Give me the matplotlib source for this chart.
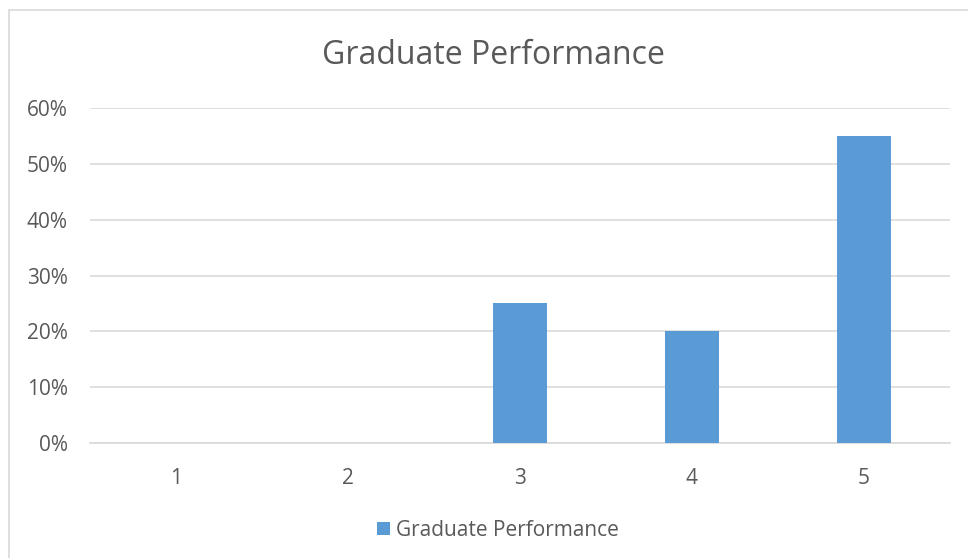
import matplotlib.pyplot as plt
import matplotlib.patches as mpatches
from matplotlib.ticker import PercentFormatter

plt.rcParams['font.family'] = ['Open Sans', 'DejaVu Sans']

categories = ['1', '2', '3', '4', '5']
values = [0.0, 0.0, 0.25, 0.20, 0.55]
series_name = 'Graduate Performance'
yticks = [0, 0.1, 0.2, 0.3, 0.4, 0.5, 0.6]

text_color = '#595959'
bar_color = '#5B9BD5'
grid_color = '#D9D9D9'

fig = plt.figure(figsize=(9.68, 5.58), dpi=100)
ax = fig.add_axes([90/968, 1 - 443/558, 860/968, 335/558])

# outer chart border (right/bottom fall outside the image)
fig.patches.append(mpatches.Rectangle((9/968, -0.1), 1.2, 1 - 10/558 + 0.1,
                                      transform=fig.transFigure, fill=False,
                                      edgecolor='#D9D9D9', linewidth=1.2))

x = range(len(categories))
ax.bar(x, values, width=0.31, color=bar_color, label=series_name, zorder=3)

ax.set_xlim(-0.5, len(categories) - 0.5)
ax.set_ylim(0, 0.6)
ax.set_yticks(yticks)
ax.yaxis.set_major_formatter(PercentFormatter(1.0, decimals=0))
ax.set_xticks(list(x))
ax.set_xticklabels(categories)

ax.grid(axis='y', color=grid_color, linewidth=1.2, zorder=0)
for s in ['top', 'right', 'left']:
    ax.spines[s].set_visible(False)
ax.spines['bottom'].set_color(grid_color)
ax.spines['bottom'].set_linewidth(1.2)
ax.tick_params(axis='both', length=0, colors=text_color, labelsize=15)
ax.tick_params(axis='y', pad=16)
ax.tick_params(axis='x', pad=18)

fig.text(493/968, 1 - 55/558, 'Graduate Performance', ha='center', va='center',
         fontsize=23, color=text_color)

fig.legend(loc='center', bbox_to_anchor=(498/968, 1 - 530/558), frameon=False,
           fontsize=15, labelcolor=text_color, handlelength=0.6, handleheight=0.6,
           handletextpad=0.3)

plt.savefig('out.png', dpi=100)
